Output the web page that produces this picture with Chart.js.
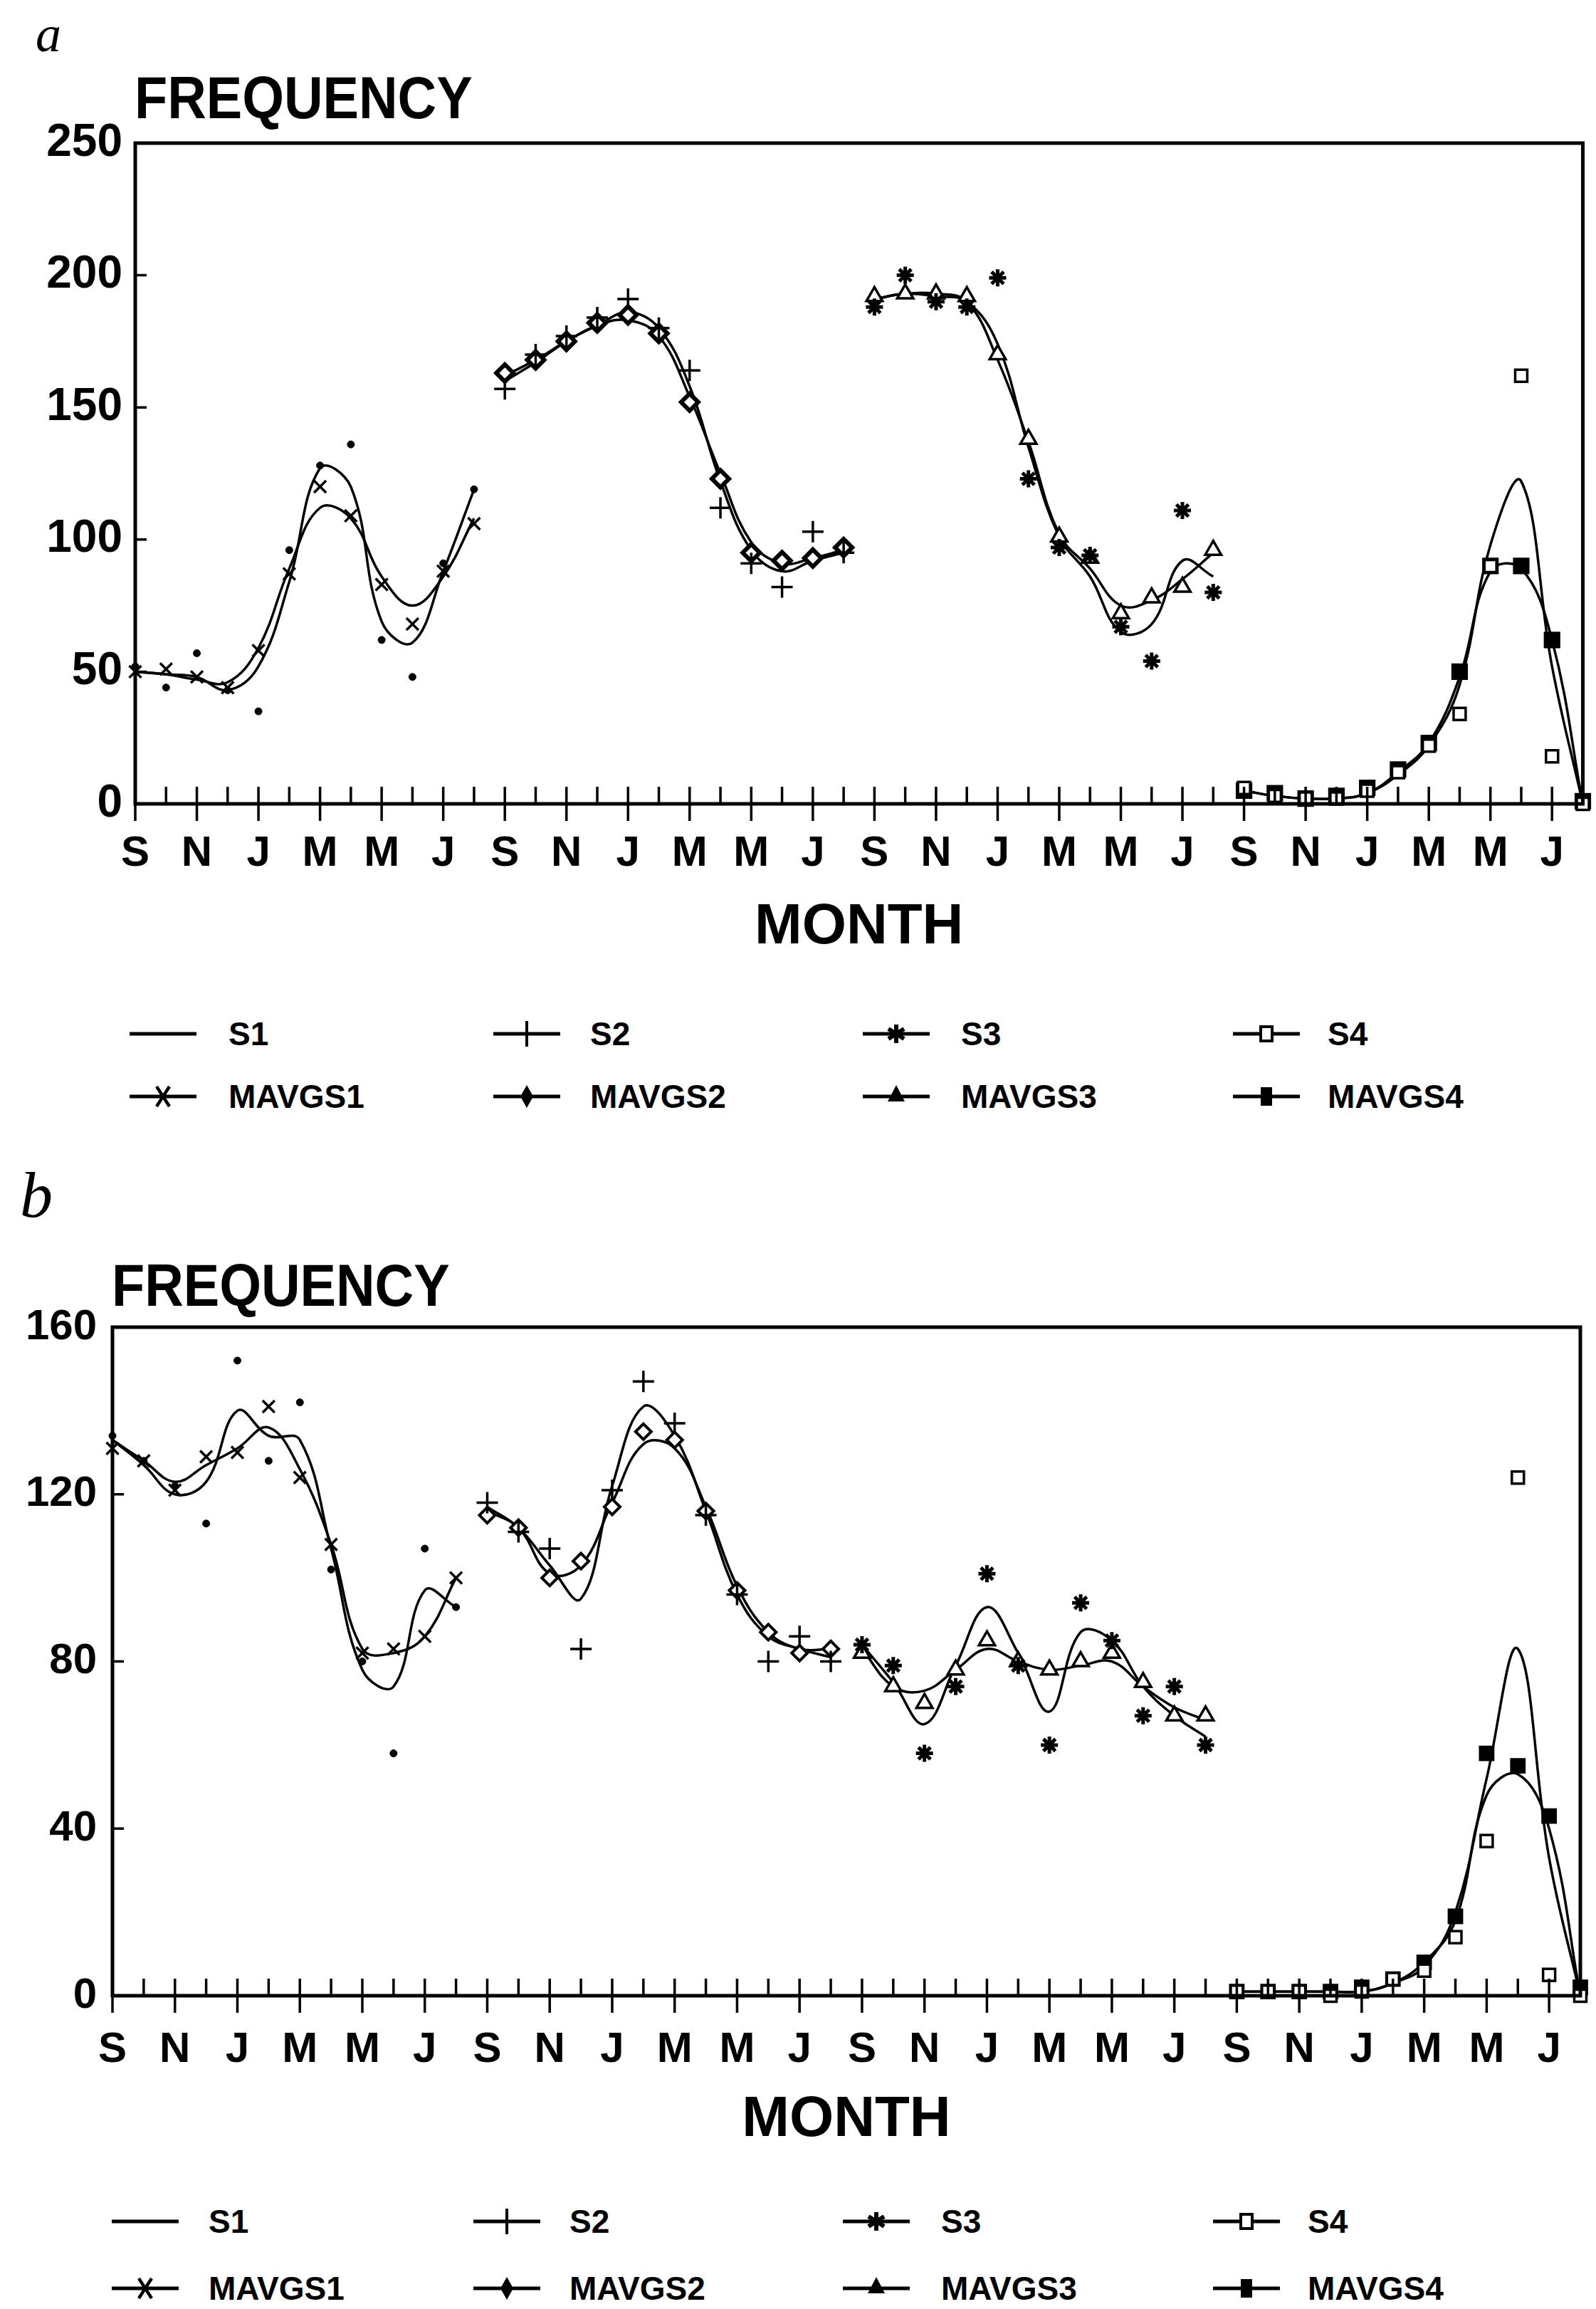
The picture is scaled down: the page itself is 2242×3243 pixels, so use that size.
<!DOCTYPE html>
<html><head><meta charset="utf-8">
<script src="https://cdn.jsdelivr.net/npm/chart.js@4.4.1/dist/chart.umd.min.js"></script>
<style>
html,body{margin:0;padding:0;background:#fff;}
body{width:2242px;height:3243px;position:relative;overflow:hidden;font-family:'Liberation Sans',Arial,sans-serif;color:#000;}
canvas{position:absolute;left:0;}
.panel{position:absolute;font-style:italic;font-family:'Liberation Serif',serif;line-height:1;white-space:nowrap;}
.freq{position:absolute;font-weight:bold;font-size:84px;line-height:1;transform:scaleX(0.9);transform-origin:0 0;white-space:nowrap;}
.leg{position:absolute;height:44px;width:10px;}
.leg svg{position:absolute;left:0;top:0;}
.leg span{position:absolute;top:0;font-weight:bold;font-size:46px;line-height:44px;white-space:nowrap;}
</style></head><body>
<div class="panel" style="left:50px;top:12px;font-size:72px;">a</div>
<div class="freq" style="left:189px;top:95px;">FREQUENCY</div>
<canvas id="chartA" width="2242" height="1360" style="top:0px;width:2242px;height:1360px;"></canvas>
<div id="legendA"></div>
<div class="panel" style="left:28px;top:1632px;font-size:92px;">b</div>
<div class="freq" style="left:157px;top:1763px;">FREQUENCY</div>
<canvas id="chartB" width="2242" height="1362" style="top:1664px;width:2242px;height:1362px;"></canvas>
<div id="legendB"></div>
<script>
// ---------- tick labels (48 months, Sep..Aug x 4 years) ----------
const monthTicks = ['S','','N','','J','','M','','M','','J','',
                    'S','','N','','J','','M','','M','','J','',
                    'S','','N','','J','','M','','M','','J','',
                    'S','','N','','J','','M','','M','','J',''];

// ---------- panel a ----------
const aS1 = [52, 44, 57, 43, 35, 96, 128, 136, 62, 48, 91, 119];
const aMAVGS1 = [50, 51, 48, 44, 58, 87, 120, 109, 83, 68, 88, 106];
const aS1Curve = [50, 49, 48, 43, 52, 84, 127, 120, 69, 61, 88, 119];
const aMAVGS1Curve = [50, 49, 47, 46, 59, 89, 112, 108, 86, 75, 86, 108];

const aS2 = [157, 170, 177, 184, 191, 180, 164, 112, 91, 82, 103, 95];
const aMAVGS2 = [163, 168, 175, 182, 185, 178, 152, 123, 95, 92, 93, 97];
const aS2Curve = [160, 167, 175, 181, 186, 180, 158, 122, 96, 88, 92, 95];
const aMAVGS2Curve = [162, 168, 175, 181, 183, 177, 154, 125, 99, 91, 93, 96];

const aS3 = [188, 200, 190, 188, 199, 123, 97, 94, 67, 54, 111, 80];
const aMAVGS3 = [192, 193, 193, 192, 170, 138, 101, 93, 72, 78, 82, 96];
const aS3Curve = [191, 193, 192, 190, 174, 135, 101, 86, 65, 68, 92, 86];
const aMAVGS3Curve = [191, 193, 193, 190, 168, 137, 102, 89, 75, 77, 85, 95];

const aS4 = [6, 3, 2, 2, 5, 12, 22, 34, 90, 162, 18, 0];
const aMAVGS4 = [5, 4, 2, 3, 6, 13, 23, 50, 90, 90, 62, 1];
const aS4Curve = [5, 3, 2, 2, 4, 11, 22, 45, 98, 122, 52, 0];
const aMAVGS4Curve = [5, 3, 2, 2, 4, 12, 23, 48, 88, 89, 62, 0];

// ---------- panel b ----------
const bS1 = [134, 128, 122, 113, 152, 128, 142, 102, 80, 58, 107, 93];
const bMAVGS1 = [131, 128, 121, 129, 130, 141, 124, 108, 82, 83, 86, 100];
const bS1Curve = [133, 127, 120, 123, 140, 134, 133, 107, 78, 74, 97, 93];
const bMAVGS1Curve = [133, 128, 123, 127, 131, 136, 126, 108, 83, 82, 86, 100];

const bS2 = [118, 111, 107, 83, 121, 147, 137, 115, 96, 80, 86, 80];
const bMAVGS2 = [115, 112, 100, 104, 117, 135, 133, 116, 97, 87, 82, 83];
const bS2Curve = [117, 112, 103, 95, 122, 141, 134, 116, 96, 86, 83, 81];
const bMAVGS2Curve = [116, 112, 101, 103, 118, 132, 131, 117, 98, 87, 83, 83];

const bS3 = [84, 79, 58, 74, 101, 79, 60, 94, 85, 67, 74, 60];
const bMAVGS3 = [82, 74, 70, 78, 85, 80, 78, 80, 82, 75, 67, 67];
const bS3Curve = [84, 75, 65, 79, 93, 82, 68, 87, 85, 74, 67, 62];
const bMAVGS3Curve = [83, 74, 73, 78, 83, 80, 78, 79, 80, 74, 69, 66];

const bS4 = [1, 1, 1, 0, 1, 4, 6, 14, 37, 124, 5, 0];
const bMAVGS4 = [1, 1, 1, 1, 2, 4, 8, 19, 58, 55, 43, 2];
const bS4Curve = [1, 1, 1, 1, 1, 3, 7, 20, 52, 83, 33, 0];
const bMAVGS4Curve = [1, 1, 1, 1, 1, 3, 8, 18, 48, 53, 40, 0];

const seriesNames = ['S1','S2','S3','S4'];
const mavgNames = ['MAVGS1','MAVGS2','MAVGS3','MAVGS4'];

// marker styles per year
const rawStyles = [
  {pointStyle:'circle', radius:5, bg:'#000', bw:1},
  {pointStyle:'cross', radius:15, bg:'#000', bw:3.5},
  {pointStyle:'star', radius:12, bg:'#000', bw:5},
  {pointStyle:'rect', radius:12, bg:'#fff', bw:3.5}
];
const mavgStylesA = [
  {pointStyle:'crossRot', radius:12, bg:'#000', bw:3.5},
  {pointStyle:'rectRot', radius:12, bg:'#fff', bw:6},
  {pointStyle:'triangle', radius:13, bg:'#fff', bw:3.5},
  {pointStyle:'rect', radius:15, bg:'#000', bw:2}
];
const mavgStylesB = [
  {pointStyle:'crossRot', radius:12, bg:'#000', bw:3.5},
  {pointStyle:'rectRot', radius:11, bg:'#fff', bw:4},
  {pointStyle:'triangle', radius:13, bg:'#fff', bw:3.5},
  {pointStyle:'rect', radius:14, bg:'#000', bw:2}
];

function makeDatasets(S, M, SC, MC, mStyles) {
  const ds = [];
  for (let k = 0; k < 4; k++) {
    const pts = arr => arr.map((v, i) => ({x: 12 * k + i, y: v}));
    const r = rawStyles[k], m = mStyles[k];
    ds.push({label: seriesNames[k], data: pts(S[k]), showLine: false, order: 0, clip: false,
      pointStyle: r.pointStyle, pointRadius: r.radius, pointBackgroundColor: r.bg,
      pointBorderColor: '#000', pointBorderWidth: r.bw});
    ds.push({label: mavgNames[k], data: pts(M[k]), showLine: false, order: 0, clip: false,
      pointStyle: m.pointStyle, pointRadius: m.radius, pointBackgroundColor: m.bg,
      pointBorderColor: '#000', pointBorderWidth: m.bw});
    ds.push({label: seriesNames[k] + ' curve', data: pts(SC[k]), order: 5, clip: false,
      borderColor: '#000', borderWidth: 3.5, pointRadius: 0, tension: 0.4, fill: false});
    ds.push({label: mavgNames[k] + ' curve', data: pts(MC[k]), order: 5, clip: false,
      borderColor: '#000', borderWidth: 3.5, pointRadius: 0, tension: 0.4, fill: false});
  }
  return ds;
}

const framePlugin = {
  id: 'frame',
  afterDraw(chart) {
    const {ctx, chartArea: {left, right, top, bottom}, scales: {x, y}} = chart;
    ctx.save();
    ctx.strokeStyle = '#000';
    ctx.lineWidth = 5;
    ctx.strokeRect(left, top, right - left, bottom - top);
    ctx.lineWidth = 3.5;
    ctx.beginPath();
    monthTicks.forEach((lab, i) => {
      const px = x.getPixelForValue(i);
      ctx.moveTo(px, bottom - 24);
      ctx.lineTo(px, lab ? bottom + 24 : bottom);
    });
    y.ticks.forEach(t => {
      if (t.value <= y.min || t.value >= y.max) return;
      const py = y.getPixelForValue(t.value);
      ctx.moveTo(left, py);
      ctx.lineTo(left + 16, py);
    });
    ctx.stroke();
    ctx.restore();
  }
};

const FONT = "'Liberation Sans', Arial, sans-serif";

function makeChart(id, datasets, cfg) {
  return new Chart(document.getElementById(id), {
    type: 'line',
    data: {datasets},
    options: {
      responsive: false, animation: false, devicePixelRatio: 1,
      layout: {padding: cfg.padding},
      plugins: {legend: {display: false}, tooltip: {enabled: false}, title: {display: false}},
      scales: {
        x: {
          type: 'linear', min: 0, max: 47,
          grid: {display: false, drawTicks: false}, border: {display: false},
          ticks: {stepSize: 1, autoSkip: false, maxRotation: 0, minRotation: 0,
            padding: 0, color: '#000',
            font: {family: FONT, size: 60, weight: 'bold', lineHeight: cfg.xLineHeight},
            callback: v => monthTicks[v] ?? ''},
          title: {display: true, text: 'MONTH', color: '#000',
            font: {family: FONT, size: 80, weight: 'bold'},
            padding: {top: 0, bottom: cfg.titlePad}},
          afterFit: s => { s.height = cfg.xHeight; }
        },
        y: {
          min: 0, max: cfg.yMax,
          grid: {display: false, drawTicks: false}, border: {display: false},
          ticks: {stepSize: cfg.yStep, padding: cfg.yPad, color: '#000',
            font: {family: FONT, size: cfg.yFont, weight: 'bold'}},
          afterFit: s => { s.width = cfg.yWidth; }
        }
      }
    },
    plugins: [framePlugin]
  });
}

makeChart('chartA',
  makeDatasets([aS1, aS2, aS3, aS4], [aMAVGS1, aMAVGS2, aMAVGS3, aMAVGS4],
               [aS1Curve, aS2Curve, aS3Curve, aS4Curve], [aMAVGS1Curve, aMAVGS2Curve, aMAVGS3Curve, aMAVGS4Curve],
               mavgStylesA),
  {padding: {top: 201, right: 4, left: 0, bottom: 0}, xLineHeight: '140px', titlePad: 9, xHeight: 231,
   yMax: 250, yStep: 50, yPad: 18, yFont: 64, yWidth: 190});

makeChart('chartB',
  makeDatasets([bS1, bS2, bS3, bS4], [bMAVGS1, bMAVGS2, bMAVGS3, bMAVGS4],
               [bS1Curve, bS2Curve, bS3Curve, bS4Curve], [bMAVGS1Curve, bMAVGS2Curve, bMAVGS3Curve, bMAVGS4Curve],
               mavgStylesB),
  {padding: {top: 200, right: 22, left: 0, bottom: 0}, xLineHeight: '152px', titlePad: 0, xHeight: 223,
   yMax: 160, yStep: 40, yPad: 22, yFont: 60, yWidth: 158});

// ---------- legends (HTML) ----------
const legendRow1 = [['S1','line'],['S2','plus'],['S3','star'],['S4','osquare']];
const legendRow2 = [['MAVGS1','x'],['MAVGS2','diamond'],['MAVGS3','triangle'],['MAVGS4','square']];

function sampleSVG(kind) {
  const W = 94, H = 44, cx = 47, cy = 22;
  let m = '';
  switch (kind) {
    case 'plus': m = `<path d="M${cx} ${cy-18}V${cy+18}" stroke="#000" stroke-width="4"/>`; break;
    case 'star': m = `<path d="M${cx} ${cy-13}V${cy+13}M${cx-11} ${cy-7}L${cx+11} ${cy+7}M${cx-11} ${cy+7}L${cx+11} ${cy-7}" stroke="#000" stroke-width="6"/>`; break;
    case 'osquare': m = `<rect x="${cx-8}" y="${cy-10}" width="16" height="20" fill="#fff" stroke="#000" stroke-width="4"/>`; break;
    case 'x': m = `<path d="M${cx-9} ${cy-14}L${cx+9} ${cy+14}M${cx+9} ${cy-14}L${cx-9} ${cy+14}" stroke="#000" stroke-width="4.5"/>`; break;
    case 'diamond': m = `<path d="M${cx} ${cy-16}L${cx+9} ${cy}L${cx} ${cy+16}L${cx-9} ${cy}Z" fill="#000"/>`; break;
    case 'triangle': m = `<path d="M${cx} ${cy-16}L${cx+12} ${cy+7}L${cx-12} ${cy+7}Z" fill="#000"/>`; break;
    case 'square': m = `<rect x="${cx-8}" y="${cy-13}" width="16" height="26" fill="#000"/>`; break;
  }
  return `<svg width="${W}" height="${H}" viewBox="0 0 ${W} ${H}"><path d="M0 ${cy}H${W}" stroke="#000" stroke-width="5"/>${m}</svg>`;
}

function buildLegend(holderId, rowsY, sampleX, textX) {
  const holder = document.getElementById(holderId);
  [legendRow1, legendRow2].forEach((row, r) => {
    row.forEach(([name, kind], c) => {
      const el = document.createElement('div');
      el.className = 'leg';
      el.style.left = sampleX[c] + 'px';
      el.style.top = (rowsY[r] - 22) + 'px';
      el.innerHTML = sampleSVG(kind);
      const sp = document.createElement('span');
      sp.textContent = name;
      sp.style.left = (textX[c] - sampleX[c]) + 'px';
      el.appendChild(sp);
      holder.appendChild(el);
    });
  });
}
buildLegend('legendA', [1452, 1540], [182, 693, 1212, 1732], [321, 829, 1350, 1865]);
buildLegend('legendB', [3120, 3214], [157, 665, 1184, 1704], [293, 800, 1322, 1837]);
</script>
</body></html>
